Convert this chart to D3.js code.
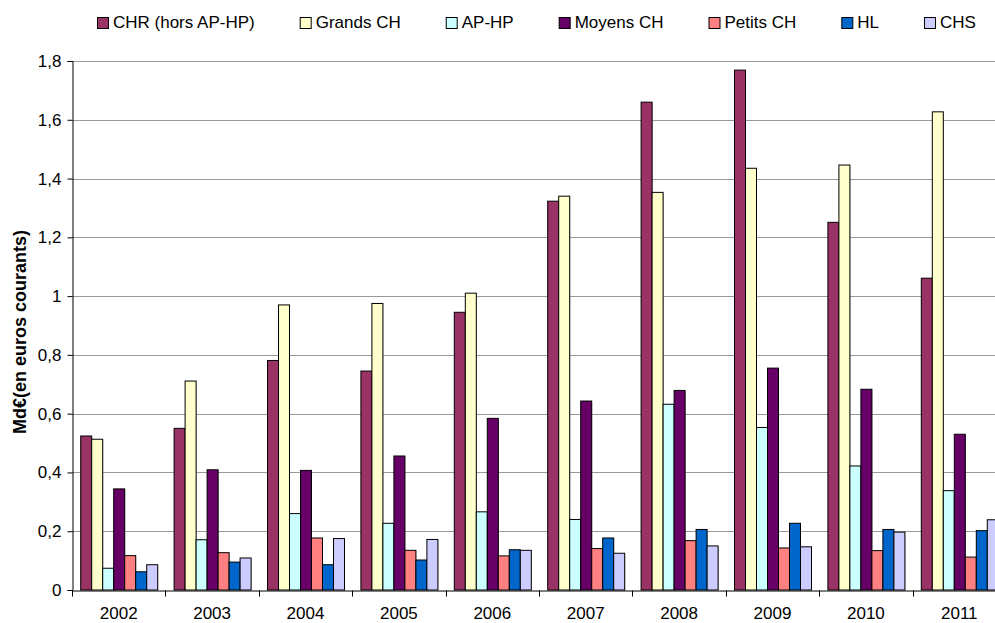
<!DOCTYPE html>
<html>
<head>
<meta charset="utf-8">
<script src="https://cdn.jsdelivr.net/npm/d3@7"></script>
<style>
  body { margin: 0; background: #fff; }
  svg { display: block; font-family: Arial, "Liberation Sans", sans-serif; }
</style>
</head>
<body>
<div id="chart"></div>
<script>
var years = ["2002", "2003", "2004", "2005", "2006", "2007", "2008", "2009", "2010", "2011"];
var seriesNames = ["CHR (hors AP-HP)", "Grands CH", "AP-HP", "Moyens CH", "Petits CH", "HL", "CHS"];
var seriesColors = ["#993366", "#ffffcc", "#ccffff", "#660066", "#ff8080", "#0066cc", "#ccccff"];

var chr     = [0.524, 0.550, 0.781, 0.745, 0.945, 1.323, 1.660, 1.769, 1.251, 1.061];
var grands  = [0.513, 0.711, 0.970, 0.975, 1.010, 1.340, 1.353, 1.435, 1.446, 1.627];
var aphp    = [0.074, 0.171, 0.260, 0.227, 0.266, 0.240, 0.632, 0.553, 0.422, 0.338];
var moyens  = [0.344, 0.409, 0.407, 0.456, 0.584, 0.643, 0.679, 0.755, 0.683, 0.530];
var petits  = [0.117, 0.127, 0.177, 0.135, 0.116, 0.141, 0.168, 0.143, 0.134, 0.112];
var hl      = [0.062, 0.095, 0.086, 0.102, 0.137, 0.177, 0.206, 0.227, 0.206, 0.202];
var chs     = [0.086, 0.109, 0.175, 0.172, 0.135, 0.125, 0.150, 0.147, 0.197, 0.239];

var yTicks = [0, 0.2, 0.4, 0.6, 0.8, 1, 1.2, 1.4, 1.6, 1.8];

var allSeries = [chr, grands, aphp, moyens, petits, hl, chs];

var width = 995, height = 623;
var margin = {top: 61, left: 72, bottom: 33};
var plotRight = 1006; // plot area runs a bit past the picture's right edge
var fontSize = 17;

var svg = d3.select("#chart").append("svg")
    .attr("width", width)
    .attr("height", height);

var x = d3.scaleBand()
    .domain(years)
    .range([margin.left, plotRight])
    .paddingInner(0);

var y = d3.scaleLinear()
    .domain([0, 1.8])
    .range([height - margin.bottom, margin.top]);

var barW = 11;
var groupW = barW * seriesNames.length;
var x1 = d3.scaleBand()
    .domain(d3.range(seriesNames.length))
    .range([(x.bandwidth() - groupW) / 2, (x.bandwidth() + groupW) / 2]);

// gridlines
svg.append("g")
    .selectAll("line")
    .data(yTicks.slice(1))
    .enter()
    .append("line")
    .attr("x1", margin.left)
    .attr("x2", width)
    .attr("y1", d => Math.round(y(d)) + 0.5)
    .attr("y2", d => Math.round(y(d)) + 0.5)
    .attr("stroke", "#999")
    .attr("stroke-width", 1);

// bars
var rows = [];
years.forEach(function(yr, i) {
    allSeries.forEach(function(s, j) {
        rows.push({year: yr, s: j, v: s[i]});
    });
});

var bars = svg.append("g");

bars.selectAll(".shadow")
    .data(rows)
    .enter()
    .append("rect")
    .attr("class", "shadow")
    .attr("x", d => x(d.year) + x1(d.s) + 1)
    .attr("y", d => y(d.v) + 1)
    .attr("width", barW)
    .attr("height", d => y(0) - y(d.v) - 1)
    .attr("fill", "#bbb");

bars.selectAll(".bar")
    .data(rows)
    .enter()
    .append("rect")
    .attr("class", "bar")
    .attr("x", d => x(d.year) + x1(d.s) + 0.5)
    .attr("y", d => y(d.v))
    .attr("width", barW)
    .attr("height", d => y(0) - y(d.v))
    .attr("fill", d => seriesColors[d.s])
    .attr("stroke", "#000")
    .attr("stroke-width", 1);

// y axis
var yAxis = svg.append("g")
    .attr("transform", "translate(" + (margin.left + 0.5) + ",0)")
    .call(d3.axisLeft(y).tickValues(yTicks).tickSize(5).tickPadding(6)
        .tickFormat(d => String(d).replace(".", ",")));
yAxis.select(".domain").attr("stroke", "#000");
yAxis.selectAll("text").attr("font-size", fontSize).attr("fill", "#000").attr("font-family", "Arial, 'Liberation Sans', sans-serif");

// x axis
var xAxis = svg.append("g")
    .attr("transform", "translate(0," + (y(0) + 0.5) + ")")
    .call(d3.axisBottom(x).tickSize(0).tickPadding(16));
xAxis.select(".domain").attr("stroke", "#000");
xAxis.selectAll("text").attr("font-size", fontSize).attr("fill", "#000").attr("font-family", "Arial, 'Liberation Sans', sans-serif");
xAxis.selectAll(".sep")
    .data(years)
    .enter()
    .append("line")
    .attr("class", "sep")
    .attr("x1", d => Math.round(x(d)) + 0.5)
    .attr("x2", d => Math.round(x(d)) + 0.5)
    .attr("y1", 0)
    .attr("y2", 6)
    .attr("stroke", "#000");

// y title
svg.append("text")
    .attr("transform", "translate(26,332) rotate(-90)")
    .attr("text-anchor", "middle")
    .attr("font-size", 18)
    .attr("font-weight", "bold")
    .text("Md€(en euros courants)");

// legend
var legend = svg.append("g");
var lx = 97;
seriesNames.forEach(function(name, i) {
    var g = legend.append("g").attr("transform", "translate(" + lx + ",0)");
    g.append("rect")
        .attr("x", 0.5)
        .attr("y", 17.5)
        .attr("width", 11)
        .attr("height", 11)
        .attr("fill", seriesColors[i])
        .attr("stroke", "#000");
    var t = g.append("text")
        .attr("x", 16)
        .attr("y", 28)
        .attr("font-size", fontSize)
        .text(name);
    lx += 16 + t.node().getComputedTextLength() + 45;
});
</script>
</body>
</html>
